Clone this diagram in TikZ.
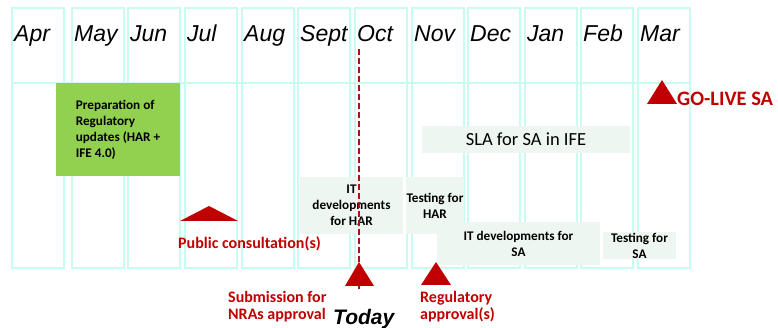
\documentclass[tikz,border=0pt]{standalone}
\usepackage{fontspec}
\setmainfont{Carlito}
\newfontfamily\arialfont{Liberation Sans}
\definecolor{gridcyan}{RGB}{200,252,240}
\definecolor{taskfill}{RGB}{237,246,241}
\definecolor{prepgreen}{RGB}{146,208,80}
\definecolor{milered}{RGB}{192,0,0}
\definecolor{todayred}{RGB}{170,20,20}
\tikzset{
    monthbox/.style={draw=gridcyan, line width=1.5pt},
    monthlabel/.style={anchor=base west, inner sep=0pt, font=\arialfont\itshape\fontsize{23}{27}\selectfont},
    taskbox/.style={fill=taskfill, inner sep=0pt, align=center, font=\bfseries\fontsize{13.2}{16}\selectfont},
    milestone/.style={fill=milered},
    milelabel/.style={text=milered, inner sep=0pt, font=\bfseries\fontsize{16}{17}\selectfont}
}

\begin{document}
\begin{tikzpicture}[x=1pt, y=-1pt]
    \useasboundingbox (0,0) rectangle (778,328);

    % month columns
    \foreach \m/\x in {Apr/12, May/72, Jun/128, Jul/185, Aug/242, Sept/298, Oct/355, Nov/412, Dec/468, Jan/525, Feb/581, Mar/638} {
        \draw[monthbox] (\x,8) rectangle ++(52,260);
        \node[monthlabel] (\m) at (\x+2,42) {\m};
    }
    \draw[monthbox] (12,83) -- (690,83);

    % tasks
    \node[taskbox, fill=prepgreen, align=left, minimum width=124pt, minimum height=93pt] (PREP) at (118,129.5) {Preparation of\\Regulatory\\updates (HAR +\\IFE 4.0)};
    \node[taskbox, font=\fontsize{18.5}{20}\selectfont, minimum width=208pt, minimum height=27pt] (SLA) at (526,139.5) {SLA for SA in IFE};
    \node[taskbox, minimum width=103pt, minimum height=57pt] (ITHAR) at (351.5,205.5) {IT\\developments\\for HAR};
    \node[taskbox, minimum width=58pt, minimum height=57pt] (TESTHAR) at (435,205.5) {Testing for\\HAR};
    \node[taskbox, minimum width=163pt, minimum height=43pt] (ITSA) at (518.5,243.5) {IT developments for\\SA};
    \node[taskbox, minimum width=73pt, minimum height=27pt] (TESTSA) at (639.5,245.5) {Testing for\\SA};

    % today line
    \coordinate (TODAYTOP) at (359,49);
    \coordinate (TODAYBOT) at (359,290);
    \draw[todayred, line width=2pt, dash pattern=on 6pt off 3pt] (TODAYTOP) -- (TODAYBOT);

    % milestones
    \fill[milestone] (647,104) -- (662,80) -- (677,104) -- cycle;
    \fill[milestone] (180,221) -- (209,206) -- (238,221) -- cycle;
    \fill[milestone] (345,286) -- (359,262) -- (374,286) -- cycle;
    \fill[milestone] (421,285) -- (436,262) -- (451,285) -- cycle;

    \node[milelabel, anchor=base west, font=\bfseries\fontsize{20.5}{22}\selectfont] (GOLIVE) at (677,106) {GO-LIVE SA};
    \node[milelabel, anchor=base west] (PUBCONS) at (178,249) {Public consultation(s)};
    \node[milelabel, align=left, anchor=north west] (SUBMIT) at (228,291) {Submission for\\NRAs approval};
    \node[milelabel, align=left, anchor=north west] (REGAPP) at (420,291) {Regulatory\\approval(s)};
    \node[anchor=base west, inner sep=0pt, font=\arialfont\bfseries\itshape\fontsize{21}{24}\selectfont] (TODAY) at (333,324) {Today};
\end{tikzpicture}
\end{document}
